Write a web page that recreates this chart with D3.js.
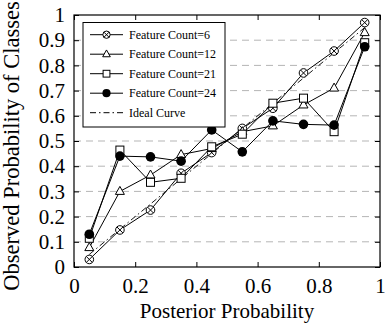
<!DOCTYPE html>
<html>
<head>
<meta charset="utf-8">
<script src="https://cdn.jsdelivr.net/npm/d3@7"></script>
<style>
  body { margin: 0; background: #fff; }
  svg text { font-family: "Liberation Serif", "DejaVu Serif", serif; fill: #000; }
</style>
</head>
<body>
<div id="chart"></div>
<script>
// bin centres on the x axis
var bins = [0.05, 0.15, 0.25, 0.35, 0.45, 0.55, 0.65, 0.75, 0.85, 0.95];
var fc6  = [0.03, 0.147, 0.226, 0.372, 0.454, 0.55, 0.63, 0.77, 0.857, 0.97];
var fc12 = [0.077, 0.30, 0.365, 0.446, 0.47, 0.537, 0.56, 0.643, 0.71, 0.93];
var fc21 = [0.114, 0.464, 0.336, 0.352, 0.477, 0.527, 0.65, 0.67, 0.537, 0.89];
var fc24 = [0.13, 0.44, 0.437, 0.42, 0.544, 0.457, 0.58, 0.566, 0.563, 0.874];
var ideal = [0.05, 0.15, 0.25, 0.35, 0.45, 0.55, 0.65, 0.75, 0.85, 0.95];
var seriesNames = ["Feature Count=6", "Feature Count=12", "Feature Count=21", "Feature Count=24", "Ideal Curve"];
var xTicks = [0, 0.2, 0.4, 0.6, 0.8, 1];
var yTicks = [0, 0.1, 0.2, 0.3, 0.4, 0.5, 0.6, 0.7, 0.8, 0.9, 1];

var svgWidth = 386, svgHeight = 328;
var margin = {top: 15, right: 6, bottom: 61, left: 74};
var width = svgWidth - margin.left - margin.right;
var height = svgHeight - margin.top - margin.bottom;

var svg = d3.select("#chart").append("svg")
  .attr("width", svgWidth)
  .attr("height", svgHeight);
var g = svg.append("g").attr("transform", `translate(${margin.left},${margin.top})`);

var x = d3.scaleLinear().domain([0, 1]).range([0, width]);
var y = d3.scaleLinear().domain([0, 1]).range([height, 0]);

// dashed grid
g.selectAll(".grid").data(yTicks.filter(d => d > 0 && d < 1))
  .enter().append("line")
  .attr("x1", 0).attr("x2", width)
  .attr("y1", d => y(d)).attr("y2", d => y(d))
  .attr("stroke", "#b5b5b5").attr("stroke-width", 1)
  .attr("stroke-dasharray", "7,5");

// axes, ticks pointing inward
function styleAxis(sel) {
  sel.select(".domain").remove();
  sel.selectAll(".tick line").attr("stroke", "#000");
  sel.selectAll(".tick text").style("font-size", "21px").style("font-family", "Liberation Serif, serif");
}
var fmt = d => d === 0 || d === 1 ? String(d) : d3.format(".1f")(d);

g.append("g").attr("transform", `translate(0,${height})`)
  .call(d3.axisBottom(x).tickValues(xTicks).tickFormat(fmt).tickSizeInner(-5).tickPadding(11))
  .call(styleAxis);
g.append("g")
  .call(d3.axisLeft(y).tickValues(yTicks).tickFormat(fmt).tickSizeInner(-5).tickPadding(9))
  .call(styleAxis);
g.append("g")
  .call(d3.axisTop(x).tickValues(xTicks).tickFormat("").tickSizeInner(-5))
  .call(styleAxis);
g.append("g").attr("transform", `translate(${width},0)`)
  .call(d3.axisRight(y).tickValues(yTicks).tickFormat("").tickSizeInner(-5))
  .call(styleAxis);

g.append("rect").attr("width", width).attr("height", height)
  .attr("fill", "none").attr("stroke", "#000").attr("stroke-width", 1.2);

// markers, k scales them down for the legend
function marker(sel, type, k) {
  k = k || 1;
  if (type === "cross") {
    var c = 3 * k;
    sel.append("circle").attr("r", 4.3 * k).attr("fill", "#fff").attr("stroke", "#000");
    sel.append("path").attr("d", `M${-c},${-c}L${c},${c}M${-c},${c}L${c},${-c}`).attr("stroke", "#000");
  } else if (type === "tri") {
    sel.append("path").attr("d", `M0,${-5 * k}L${4.5 * k},${3 * k}L${-4.5 * k},${3 * k}Z`)
      .attr("fill", "#fff").attr("stroke", "#000");
  } else if (type === "square") {
    sel.append("rect").attr("x", -4 * k).attr("y", -4 * k).attr("width", 8 * k).attr("height", 8 * k)
      .attr("fill", "#fff").attr("stroke", "#000");
  } else if (type === "dot") {
    sel.append("circle").attr("r", 4.8 * k).attr("fill", "#000");
  }
}

var line = d3.line().x(d => x(d[0])).y(d => y(d[1]));
var series = [
  {vals: fc6, type: "cross"},
  {vals: fc12, type: "tri"},
  {vals: fc21, type: "square"},
  {vals: fc24, type: "dot"}
];

g.append("path").datum(bins.map((b, i) => [b, ideal[i]]))
  .attr("d", line).attr("fill", "none").attr("stroke", "#000")
  .attr("stroke-width", 0.9).attr("stroke-dasharray", "6,3,1.5,3");

series.forEach(s => {
  var pts = bins.map((b, i) => [b, s.vals[i]]);
  g.append("path").datum(pts).attr("d", line)
    .attr("fill", "none").attr("stroke", "#000").attr("stroke-width", 1);
  g.selectAll(null).data(pts).enter().append("g")
    .attr("transform", d => `translate(${x(d[0])},${y(d[1])})`)
    .each(function() { marker(d3.select(this), s.type); });
});

// legend
var lg = svg.append("g").attr("transform", "translate(83,22.5)");
lg.append("rect").attr("width", 142).attr("height", 104.5)
  .attr("fill", "#fff").attr("stroke", "#000").attr("stroke-width", 1);
seriesNames.forEach((name, i) => {
  var yy = 12.2 + i * 19.5;
  var row = lg.append("g").attr("transform", `translate(0,${yy})`);
  var l = row.append("line").attr("x1", 7).attr("x2", 40).attr("y1", 0).attr("y2", 0)
    .attr("stroke", "#000").attr("stroke-width", 1);
  if (i < 4) {
    marker(row.append("g").attr("transform", "translate(23.5,0)"), series[i].type, 0.85);
  } else {
    l.attr("stroke-dasharray", "6,3,1.5,3");
  }
  row.append("text").attr("x", 46).attr("y", 4.2).style("font-size", "12px").text(name);
});

// axis titles
svg.append("text").attr("x", margin.left + width / 2).attr("y", 318)
  .attr("text-anchor", "middle").style("font-size", "21px").text("Posterior Probability");
svg.append("text")
  .attr("transform", `translate(19,146) rotate(-90)`)
  .attr("text-anchor", "middle").style("font-size", "22.5px").text("Observed Probability of Classes");
</script>
</body>
</html>
